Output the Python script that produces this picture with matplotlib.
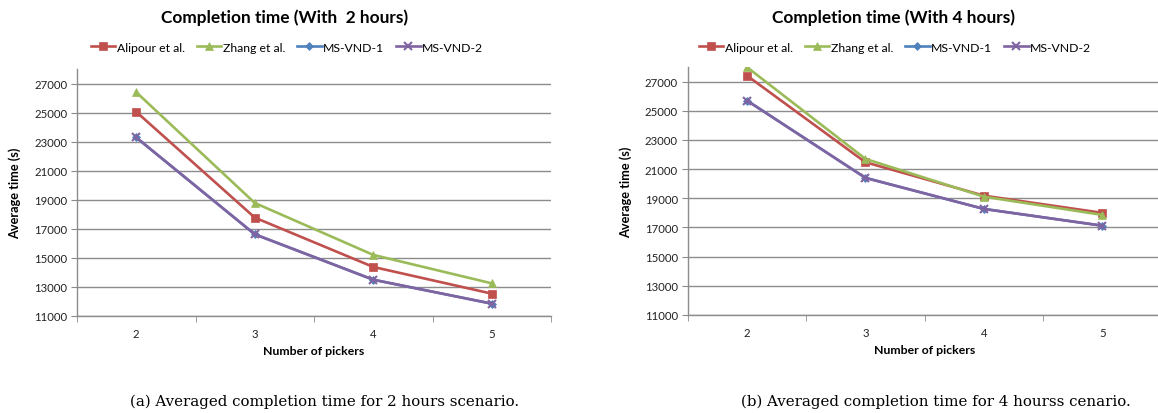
import matplotlib
matplotlib.use("Agg")
import matplotlib.pyplot as plt

pickers = [2, 3, 4, 5]
series_names = ["Alipour et al.", "Zhang et al.", "MS-VND-1", "MS-VND-2"]

# 2 hours scenario
alipour_2h = [25050, 17760, 14360, 12520]
zhang_2h = [26400, 18770, 15190, 13230]
msvnd1_2h = [23280, 16610, 13480, 11830]
msvnd2_2h = [23280, 16610, 13480, 11830]

# 4 hours scenario
alipour_4h = [27410, 21470, 19180, 18000]
zhang_4h = [27990, 21700, 19110, 17860]
msvnd1_4h = [25700, 20400, 18270, 17120]
msvnd2_4h = [25700, 20400, 18270, 17120]

yticks = list(range(11000, 28000, 2000))
titles = ["Completion time (With  2 hours)", "Completion time (With 4 hours)"]
captions = ["(a) Averaged completion time for 2 hours scenario.",
            "(b) Averaged completion time for 4 hourss cenario."]

colors = ["#C0504D", "#9BBB59", "#4F81BD", "#8064A2"]
markers = ["s", "^", "D", "x"]
msizes = [6, 6, 4.5, 6]

plt.rcParams['font.family'] = ['Lato', 'DejaVu Sans']

fig = plt.figure(figsize=(11.58, 4.14), dpi=100)

axes_rects = [[77/1158, 1-316.7/414, 474/1158, 246.7/414],
              [687.7/1158, 1-316/414, 474/1158, 248/414]]
title_x = [284.5/1158, 893/1158]
legend_x = [287/1158, 895/1158]
caption_x = [325/1158, 936/1158]

datasets = [[alipour_2h, zhang_2h, msvnd1_2h, msvnd2_2h],
            [alipour_4h, zhang_4h, msvnd1_4h, msvnd2_4h]]

grid_col = "#8C8C8C"
for i in range(2):
    ax = fig.add_axes(axes_rects[i])
    handles = []
    for j, vals in enumerate(datasets[i]):
        h, = ax.plot(pickers, vals, color=colors[j], marker=markers[j],
                     markersize=msizes[j], linewidth=1.9, label=series_names[j],
                     markeredgewidth=1.5 if markers[j] == "x" else 0.5,
                     markeredgecolor=colors[j], zorder=3 + j)
        handles.append(h)
    ax.set_xlim(1.5, 5.5)
    ax.set_ylim(11000, 28000)
    ax.set_yticks(yticks)
    ax.set_yticklabels([str(v) for v in yticks], fontsize=8.2, color="#222222")
    ax.set_xticks(pickers)
    ax.set_xticklabels([str(p) for p in pickers], fontsize=8.2, color="#222222")
    ax.set_xticks([1.5, 2.5, 3.5, 4.5, 5.5], minor=True)
    ax.tick_params(axis='x', which='major', length=0, pad=9)
    ax.tick_params(axis='x', which='minor', length=4, color=grid_col, direction='out')
    ax.tick_params(axis='y', which='major', length=4, color=grid_col, direction='out', pad=3)
    ax.grid(axis='y', color=grid_col, linewidth=1.0)
    ax.set_axisbelow(True)
    for s in ["top", "right"]:
        ax.spines[s].set_visible(False)
    for s in ["left", "bottom"]:
        ax.spines[s].set_color(grid_col)
        ax.spines[s].set_linewidth(1.0)
    ax.set_ylabel("Average time (s)", fontsize=9.2, fontweight="bold")
    ax.yaxis.set_label_coords(-0.117, 0.5)
    ax.set_xlabel("Number of pickers", fontsize=8.8, fontweight="bold")
    ax.xaxis.set_label_coords(0.5, -0.117)

    fig.text(title_x[i], 1-18/414, titles[i], ha="center", va="center",
             fontsize=12.4, fontweight="bold")
    fig.legend(handles=handles, loc="center", bbox_to_anchor=(legend_x[i], 1-48/414),
               ncol=4, frameon=False, fontsize=8.8, handlelength=2.0,
               handletextpad=0.1, columnspacing=1.0, markerscale=0.9)
    fig.text(caption_x[i], 1-402/414, captions[i], ha="center", va="center",
             fontsize=10.8, family=["DejaVu Serif"])

fig.savefig("out.png", dpi=100)
